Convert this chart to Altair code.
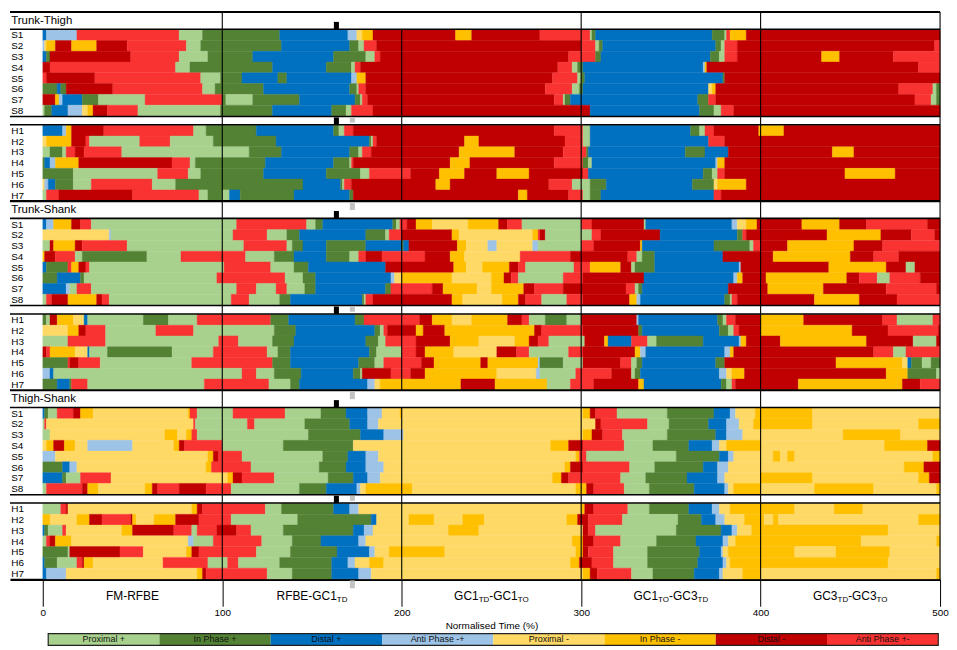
import altair as alt
import pandas as pd

# ---------------- data ----------------
CODES = ["a", "g", "b", "c", "y", "o", "d", "r"]
CATEGORIES = ["Proximal +", "In Phase +", "Distal +", "Anti Phase -+",
              "Proximal -", "In Phase -", "Distal -", "Anti Phase +-"]
COLORS = ["#a9d18e", "#548235", "#0070c0", "#9dc3e6",
          "#ffd966", "#ffc000", "#c00000", "#f93232"]

GROUPS = ["Trunk-Thigh", "Trunk-Shank", "Thigh-Shank"]
S_LABELS = ["S1", "S2", "S3", "S4", "S5", "S6", "S7", "S8"]
H_LABELS = ["H1", "H2", "H3", "H4", "H5", "H6", "H7"]

# each token = pattern code + start of the run (% normalised time); run lasts to next start / 500
TT_S = [
    "b0 c2 r19 a76 g89 b132 c170 y175 o178 d184 o230 d239 r277 a305 g306 b308 g373 a380 r381 o383 d392",
    "c0 y1 o2 d7 o16 d30 r47 a80 g88 b133 g171 a176 r179 d186 r300 a308 g310 b312 g375 a378 r380 d387 r497",
    "b0 g2 d4 r49 a76 g92 b117 g162 a180 r185 d188 r293 g308 b311 g372 a377 r380 d387 o434 d444 r474",
    "d0 r4 a74 g82 b128 g158 a172 r174 d177 r287 a295 g298 b301 c368 o369 d370 r488",
    "r0 d2 r29 a88 g99 b111 g131 b136 c172 o175 d180 r284 a298 g300 b302 g379 d380",
    "g0 b8 g10 d13 r39 a89 g96 b123 g171 a175 r176 d180 r280 a295 g299 b301 y371 o373 d375 r477 a496 g498",
    "d0 o7 c9 b11 g22 a31 r57 g100 a102 g117 b143 g174 a177 r178 d181 r285 a290 g291 b294 g365 r371 d375 r486 a495 g498",
    "a0 g1 b5 c14 y22 o25 d28 r36 a53 g99 b128 g161 a169 r172 d184 b305 g366 a374 r378 d385",
]
TT_H = [
    "b0 c11 o13 d16 r34 a84 g91 b119 g162 a165 r168 d173 r285 a301 b305 g361 a366 r369 d374 o399 d413",
    "y0 o2 d16 r24 a26 r54 a71 g95 b130 g182 a183 r184 d186 o235 d243 r291 a301 b305 r371 d380",
    "a0 g4 a11 r13 d18 r23 a44 g115 b133 g171 a176 r178 d183 o232 d263 r290 g303 b304 g358 b369 d382 o440 d452",
    "g0 b1 c4 o7 d20 r72 a82 g85 b124 g162 a171 r172 d173 o227 d238 r285 g301 a304 b306 c375 o376 d380",
    "g0 a17 r64 a81 g88 b123 g158 a177 r182 d205 o221 d235 o253 d271 r301 b304 g368 a373 r376 d380 o447 d475",
    "y0 c1 b3 g7 a17 r27 a61 g74 b145 g166 a167 r168 d172 o219 d227 r282 a295 g305 b314 g362 y374 o376 d392",
    "a0 r2 d9 r50 a87 g92 a100 b104 g110 b140 g171 d173 o265 d270 r293 a301 g305 b311 r374 d378",
]
TS_S = [
    "b0 c2 o6 d16 r21 a27 r108 a147 g152 b156 g195 a197 r199 d203 o208 y217 o237 d254 r259 a267 r300 d306 a335 b336 c384 y387 o392 d398 o423 d444 r459 d493",
    "y0 c37 a38 r106 a125 g136 b143 g180 a191 r193 d200 o228 y232 o273 r276 d277 a280 r306 d311 b344 g387 r390 d392 o437 d467 r484 d497",
    "a0 d4 o6 d18 r22 a47 r112 a136 g139 b145 g158 b180 g200 b201 d204 o231 y236 c248 y253 c273 a276 r300 d307 o333 b334 g374 a394 r396 d400 o415 d452 r468",
    "o0 d1 r7 a18 g22 a58 r77 a113 g129 b140 g158 a171 r176 d180 r189 d213 o227 y235 r266 d294 r326 a331 g334 b341 d379 o407 d450 r463 d477",
    "b0 g2 r14 o16 d20 r24 a26 r101 a127 g140 b148 d191 o229 y236 o245 d260 r265 a269 r296 o305 d322 a328 g330 b341 c388 d389 o438 d470 a481 d486",
    "g0 b8 g21 a23 r97 a135 g145 b152 c194 y196 o200 y228 o250 d257 r261 a265 r290 d301 b335 c385 o387 d390 o403 d448 r455 a465 r472 d489",
    "b0 c13 a15 r19 a27 r108 a119 r130 a136 g146 b152 g191 r194 d217 o223 y242 o250 d268 r274 d290 r325 a330 g332 b334 d382 o404 d435 r470 d498",
    "a0 r2 d5 o14 d30 r33 a37 r105 a115 g132 b138 g178 a179 r180 d184 o228 y234 o256 d265 r269 a278 r292 d301 o327 c331 b333 g380 a383 r384 d387 o430 d455 r476",
]
TS_H = [
    "g0 a2 d4 o8 y17 b23 a25 g56 a70 r86 g127 b137 g174 r179 d210 o217 y228 o239 d259 r267 a271 g280 a292 d300 c331 b332 g376 a379 r381 d386 o400 d424 r468 a476 r496",
    "y0 o14 d20 r24 a35 r63 a84 g129 b141 g185 a188 r190 d192 o208 d212 o224 d274 r278 d301 g332 b334 g377 a382 r385 d388 o400 d451 r471 d499",
    "a0 r14 a35 r98 a109 g128 b140 g180 a187 r191 d208 o227 y243 o263 d271 r276 a282 d302 o313 b315 r328 a337 g342 b368 c388 o389 d392 o411 d459 a485 d498",
    "d0 r2 o4 y18 b25 a26 g36 a72 r95 a125 g131 b138 g182 a186 r200 d208 o213 y229 d253 r264 a271 r293 d301 o330 c333 b336 c380 o383 d385 r463 a474 r481",
    "g0 r14 d15 r20 a32 r83 g128 b138 g176 a185 r190 d211 o218 d244 o248 c276 g277 a290 d301 r322 a328 g331 b334 g375 d380 o442 y479 b482 g484 a490 g495",
    "c0 b4 a6 r111 a119 g129 b144 g173 a177 d178 r194 d205 o213 y253 c275 a277 r297 d317 a328 g330 b333 c377 y381 o384 d391 o470 g482 a498",
    "g0 b8 g15 r16 a25 r90 a126 g138 b143 c181 y185 o188 d233 o252 a281 r294 d307 o332 b335 g378 a381 r384 d386 o421 d479 r489",
]
HS_S = [
    "b0 g1 a3 r8 d17 o21 y28 o81 r82 a86 r106 a135 g155 b169 c181 y189 o199 y200 o301 d305 r308 a320 g348 b374 c383 y386 o397 y429",
    "a0 r1 y2 r84 a85 r114 a118 g146 b171 c181 y187 d308 r311 a337 g349 b371 c381 y388 o396 y429 o488",
    "a0 y4 o68 y75 o80 r83 a86 g148 b177 c190 y201 o301 d306 r312 a323 g348 b375 c381 y390 o446 y478",
    "y0 o2 d6 o12 y18 c25 y50 o73 d76 r79 a100 g134 y173 o283 d293 r301 a324 g340 b360 c373 y377 o381 y400 o469 d493",
    "c0 y7 o92 d95 r98 a111 g156 b170 c180 y187 o297 r299 a303 g353 b377 c382 y385 o407 y411 o415 y419 o496",
    "g0 b11 c15 y19 o91 r94 a116 g154 b169 c180 y190 o291 d294 r301 a327 g341 b368 c376 y382 o480 d491",
    "b0 g11 a13 r21 y38 o103 d106 r111 a129 g159 b173 c181 y188 o284 d289 r293 a322 g336 b359 c376 y380 o400 y429 o488 d494",
    "a0 r2 d22 o25 y31 o57 d61 r64 d76 r91 a105 g143 b158 c175 y177 o180 y206 o297 d303 r307 a324 g338 b363 c380 y382 o385 y400 o430 y463 o498",
]
HS_H = [
    "a0 r10 d13 y14 o83 d86 r89 a124 g133 b162 c171 y176 o300 d302 r307 a326 g338 b360 c373 y377 o383 y419 o441 y457",
    "o0 y4 o19 d26 r33 d49 o50 y52 o62 d74 r87 a105 g142 b183 y186 o204 y218 o234 y246 o292 d298 r304 a323 g354 b367 c375 y380 o391 y402 o407 y410 o488",
    "b0 g1 a3 r11 y13 o44 d50 r73 a83 r86 d97 r108 a116 g134 b173 c179 y184 o226 y243 d301 r304 a308 g353 b378 c384 y387 o395 y471",
    "a0 r2 d4 o7 y16 c81 a84 r95 a122 g139 b155 c176 y180 o295 d301 r307 a322 g342 b364 c379 y382 o386 y456 o498",
    "g0 a14 d15 r43 y56 o80 d83 r87 a119 g138 b164 c182 y185 o193 y224 o297 d301 r304 a318 g337 b366 c378 y379 o382 y419 o442 y472",
    "b0 g1 a8 r19 d22 o23 y28 r67 a92 r103 a109 g132 b161 c170 y174 o182 y190 o294 d299 r306 a318 g337 b365 c379 y381 o383 y471",
    "b0 c2 y13 o86 d89 r91 a125 g139 b161 c176 y183 o301 d305 r309 a328 g340 b363 c377 y379 o390 y400 o498",
]
GROUP_DATA = [(TT_S, TT_H), (TS_S, TS_H), (HS_S, HS_H)]

EVENT_S = (162.2, 165.0)    # black event marker
EVENT_H = (171.1, 173.9)    # grey event marker
TICKS = [0, 100, 200, 300, 400, 500]
PHASES = [
    (50, [("FM-RFBE", 12, 0)]),
    (150, [("RFBE-GC1", 12, 0), ("TD", 8, 1)]),
    (250, [("GC1", 12, 0), ("TD", 8, 1), ("-GC1", 12, 0), ("TO", 8, 1)]),
    (350, [("GC1", 12, 0), ("TO", 8, 1), ("-GC3", 12, 0), ("TD", 8, 1)]),
    (450, [("GC3", 12, 0), ("TD", 8, 1), ("-GC3", 12, 0), ("TO", 8, 1)]),
]

# ---------------- layout ----------------
T_MIN, T_MAX = -18.3, 500
PLOT_W, PLOT_H = 936, 571
Y_TOP, Y_BOT = 3, 579
PX = PLOT_W / (T_MAX - T_MIN)
FONT = "Liberation Sans"
PERIOD = 192
S_TOP, S_BOT = 21.0, 108.5
H_TOP, H_BOT = 118.0, 194.5
S_ROW = (S_BOT - S_TOP) / 8
H_ROW = (H_BOT - H_TOP) / 7

cells, labels, hlines, vlines, marks = [], [], [], [], []
for g, (srows, hrows) in enumerate(GROUP_DATA):
    off = g * PERIOD
    labels.append({"label": GROUPS[g], "x": -17.6, "y": 11.8 + off, "fs": 11.5})
    for block, rows, names, top, rh in (("S", srows, S_LABELS, S_TOP, S_ROW),
                                        ("H", hrows, H_LABELS, H_TOP, H_ROW)):
        for i, s in enumerate(rows):
            y0 = top + off + i * rh
            toks = s.split()
            for k, tk in enumerate(toks):
                start = float(tk[1:])
                end = float(toks[k + 1][1:]) if k + 1 < len(toks) else 500.0
                cells.append({"t0": start, "t1": end, "y0": y0, "y1": y0 + rh,
                              "cat": CATEGORIES[CODES.index(tk[0])]})
            labels.append({"label": names[i], "x": -17.6, "y": y0 + rh / 2 + 0.3, "fs": 10})
        bot = top + off + rh * len(rows)
        marks.append({"x0": EVENT_S[0], "x1": EVENT_S[1], "y0": top + off - 8, "y1": top + off - 0.5, "c": "black"})
        gy = bot + 1.8 if block == "S" else bot + 1.5
        gh = 5 if block == "S" else 8
        marks.append({"x0": EVENT_H[0], "x1": EVENT_H[1], "y0": gy, "y1": gy + gh, "c": "#c3c3c3"})
    for yy, w in ((3 + off, 2.2), (20.5 + off, 1.6), (109 + off, 1.4), (117.5 + off, 1.4)):
        hlines.append({"y": yy, "w": w})
    vlines.append({"x": 200, "y0": 20.5 + off, "y1": H_BOT + off})
for xv in (100, 300, 400, 500):
    vlines.append({"x": xv, "y0": Y_TOP, "y1": Y_BOT})

# phase labels, composed of normal and subscript pieces
AW = {"G": .778, "C": .722, "1": .556, "3": .556, "T": .611, "D": .722, "O": .778,
      "-": .333, "R": .722, "F": .611, "B": .667, "E": .667, "M": .833}
ptext = []
for centre, pieces in PHASES:
    widths = [sum(AW[ch] for ch in txt) * fs for txt, fs, _ in pieces]
    pos = -sum(widths) / 2
    for (txt, fs, sub), wdt in zip(pieces, widths):
        ptext.append({"label": txt, "x": centre + pos / PX, "y": 596 + (3.5 if sub else 0), "fs": fs})
        pos += wdt

LEG_X0, LEG_X1, LEG_Y0, LEG_Y1 = 3.0, 499.0, 634, 646
step = (LEG_X1 - LEG_X0) / len(CATEGORIES)
legend = [{"cat": c, "x0": LEG_X0 + i * step, "x1": LEG_X0 + (i + 1) * step,
           "xm": LEG_X0 + (i + 0.5) * step, "y0": LEG_Y0, "y1": LEG_Y1, "ym": (LEG_Y0 + LEG_Y1) / 2}
          for i, c in enumerate(CATEGORIES)]
legbox = [{"x0": LEG_X0, "x1": LEG_X1, "y0": LEG_Y0, "y1": LEG_Y1}]

# ---------------- chart ----------------
XS = alt.Scale(domain=[T_MIN, T_MAX], nice=False, zero=False)
YS = alt.Scale(domain=[Y_TOP, Y_BOT], nice=False, zero=False, reverse=True)
AX = alt.Axis(values=TICKS, tickSize=27, tickColor="black", tickWidth=1, domainColor="black",
              domainWidth=2.2, labelFontSize=10, labelColor="black", labelPadding=1, labelFont=FONT,
              labelFlush=False, grid=False, title="Normalised Time (%)", titleFont=FONT,
              titleFontSize=10, titleFontWeight="normal", titleColor="black",
              titleX=(250 - T_MIN) * PX, titleY=46, titleBaseline="middle", titleAlign="center")
CS = alt.Scale(domain=CATEGORIES, range=COLORS)


def X(f):
    return alt.X(f, type="quantitative", scale=XS, axis=AX)


def Y(f):
    return alt.Y(f, type="quantitative", scale=YS, axis=None)


cell_layer = alt.Chart(pd.DataFrame(cells)).mark_rect(strokeWidth=0.4).encode(
    x=X("t0"), x2="t1", y=Y("y0"), y2="y1",
    fill=alt.Fill("cat:N", scale=CS, legend=None),
    stroke=alt.Stroke("cat:N", scale=CS, legend=None))

hline_layer = alt.Chart(pd.DataFrame(hlines)).mark_rule(color="black").encode(
    x=alt.datum(T_MIN, type="quantitative", scale=XS, axis=AX), x2=alt.datum(T_MAX),
    y=Y("y"), strokeWidth=alt.StrokeWidth("w:Q", scale=None))

vline_layer = alt.Chart(pd.DataFrame(vlines)).mark_rule(color="black", strokeWidth=1.1).encode(
    x=X("x"), y=Y("y0"), y2="y1")

mark_layer = alt.Chart(pd.DataFrame(marks)).mark_rect().encode(
    x=X("x0"), x2="x1", y=Y("y0"), y2="y1", fill=alt.Fill("c:N", scale=None))

label_layer = alt.Chart(pd.DataFrame(labels)).mark_text(
    align="left", baseline="middle", font=FONT, color="black").encode(
    x=X("x"), y=Y("y"), text="label:N", size=alt.Size("fs:Q", scale=None))

phase_layer = alt.Chart(pd.DataFrame(ptext)).mark_text(
    align="left", baseline="middle", font=FONT, color="black").encode(
    x=X("x"), y=Y("y"), text="label:N", size=alt.Size("fs:Q", scale=None))

leg_rect = alt.Chart(pd.DataFrame(legend)).mark_rect().encode(
    x=X("x0"), x2="x1", y=Y("y0"), y2="y1", fill=alt.Fill("cat:N", scale=CS, legend=None))
leg_box = alt.Chart(pd.DataFrame(legbox)).mark_rect(filled=False, stroke="#222222", strokeWidth=1.2).encode(
    x=X("x0"), x2="x1", y=Y("y0"), y2="y1")
leg_text = alt.Chart(pd.DataFrame(legend)).mark_text(
    align="center", baseline="middle", font=FONT, fontSize=9, color="#111111").encode(
    x=X("xm"), y=Y("ym"), text="cat:N")

chart = alt.layer(cell_layer, vline_layer, hline_layer, mark_layer, label_layer,
                  phase_layer, leg_rect, leg_box, leg_text).properties(
    width=PLOT_W, height=PLOT_H, padding=0, background="white"
).configure_view(stroke=None)

chart.save("out.html", embed_options={"renderer": "svg", "actions": False})
